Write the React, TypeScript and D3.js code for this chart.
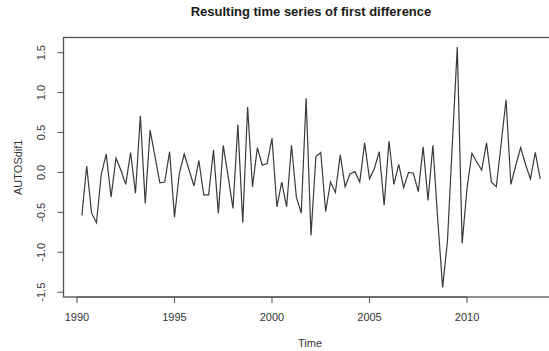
import React from "react";
import * as d3 from "d3";

const startYear = 1990.25;
const frequency = 4;
const diffValues = [
  -0.54, 0.08, -0.51,
  -0.63, -0.02, 0.23, -0.31,
  0.18, 0.03, -0.15, 0.25,
  -0.26, 0.71, -0.39, 0.53,
  0.20, -0.13, -0.12, 0.26,
  -0.56, -0.01, 0.23, 0.03,
  -0.17, 0.15, -0.28, -0.28,
  0.28, -0.51, 0.34, -0.05,
  -0.45, 0.60, -0.63, 0.82,
  -0.18, 0.31, 0.09, 0.11,
  0.43, -0.43, -0.12, -0.43,
  0.34, -0.31, -0.51, 0.93,
  -0.79, 0.20, 0.25, -0.49,
  -0.12, -0.25, 0.22, -0.18,
  -0.02, 0.01, -0.12, 0.37,
  -0.08, 0.05, 0.26, -0.41,
  0.39, -0.15, 0.10, -0.19,
  0.00, -0.01, -0.24, 0.32,
  -0.35, 0.34, -0.60, -1.44,
  -0.85, 0.38, 1.57, -0.89,
  -0.20, 0.24, 0.13, 0.03,
  0.37, -0.12, -0.18, 0.36,
  0.91, -0.15, 0.09, 0.31,
  0.10, -0.08, 0.25, -0.08,
];
const xTicks = [1990, 1995, 2000, 2005, 2010];
const yTicks = [-1.5, -1.0, -0.5, 0.0, 0.5, 1.0, 1.5];
const title = "Resulting time series of first difference";
const xLabel = "Time";
const yLabel = "AUTOSdif1";

const W = 549;
const H = 351;
const box = { left: 63.5, right: 558.5, top: 37.5, bottom: 297 };
const font = "Arial, 'Liberation Sans', Helvetica, sans-serif";
const lineCol = "#505050";
const textCol = "#333";

export default function App() {
  const pts = diffValues.map((v, i) => ({ t: startYear + i / frequency, v }));
  const tExt = d3.extent(pts, (d) => d.t) as [number, number];
  const vExt = d3.extent(pts, (d) => d.v) as [number, number];
  const tPad = (tExt[1] - tExt[0]) * 0.04;
  const vPad = (vExt[1] - vExt[0]) * 0.04;
  const x = d3.scaleLinear().domain([tExt[0] - tPad, tExt[1] + tPad]).range([box.left, box.right]);
  const y = d3.scaleLinear().domain([vExt[0] - vPad, vExt[1] + vPad]).range([box.bottom, box.top]);
  const line = d3
    .line<{ t: number; v: number }>()
    .x((d) => x(d.t))
    .y((d) => y(d.v));

  const tickLen = 6;
  return (
    <svg
      width={W}
      height={H}
      style={{ position: "absolute", left: 0, top: 0, background: "#fff" }}
      fontFamily={font}
    >
      <rect x={0} y={0} width={W} height={H} fill="#fff" />
      <text x={311} y={16} textAnchor="middle" fontWeight="bold" fontSize={13} fill="#1a1a1a">
        {title}
      </text>
      <path d={line(pts) || ""} fill="none" stroke="#3a3a3a" strokeWidth={1.2} />
      <rect
        x={box.left}
        y={box.top}
        width={box.right - box.left}
        height={box.bottom - box.top}
        fill="none"
        stroke={lineCol}
        strokeWidth={1.3}
      />
      <line x1={x(xTicks[0])} x2={x(xTicks[xTicks.length - 1])} y1={box.bottom} y2={box.bottom} stroke={lineCol} />
      {xTicks.map((t) => (
        <g key={t}>
          <line x1={x(t)} x2={x(t)} y1={box.bottom} y2={box.bottom + tickLen} stroke={lineCol} />
          <text x={x(t)} y={320.5} textAnchor="middle" fontSize={11} fill={textCol}>
            {t}
          </text>
        </g>
      ))}
      {yTicks.map((v) => (
        <g key={v}>
          <line x1={box.left - tickLen} x2={box.left} y1={y(v)} y2={y(v)} stroke={lineCol} />
          <text
            transform={`translate(44.5, ${y(v)}) rotate(-90)`}
            textAnchor="middle"
            fontSize={11}
            fill={textCol}
          >
            {v.toFixed(1)}
          </text>
        </g>
      ))}
      <text x={310} y={347} textAnchor="middle" fontSize={11} fill={textCol}>
        {xLabel}
      </text>
      <text
        transform={`translate(22, ${(box.top + box.bottom) / 2}) rotate(-90)`}
        textAnchor="middle"
        fontSize={11}
        fill={textCol}
      >
        {yLabel}
      </text>
    </svg>
  );
}
